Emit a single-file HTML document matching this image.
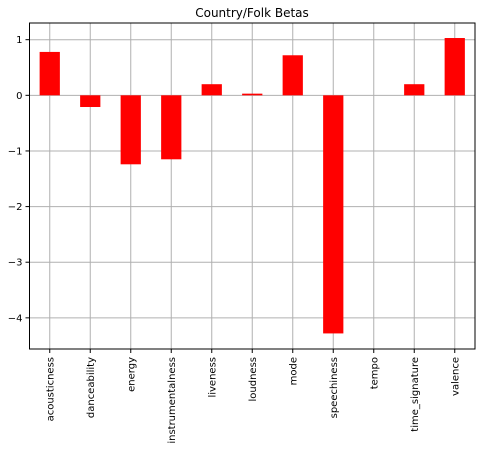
<!DOCTYPE html>
<html><head><meta charset="utf-8"><style>
body{margin:0;background:#fff;}
svg text{font-family:"DejaVu Sans","Liberation Sans",sans-serif;}
</style></head><body>
<svg id="chart" width="486" height="450" xmlns="http://www.w3.org/2000/svg">
<text x="252" y="17" text-anchor="middle" font-size="12">Country/Folk Betas</text>
<g id="grid"></g><g id="bars"></g><g id="axes"></g>
</svg>
<script>
const categories=["acousticness","danceability","energy","instrumentalness","liveness","loudness","mode","speechiness","tempo","time_signature","valence"];
const betas=[0.78,-0.21,-1.24,-1.15,0.2,0.03,0.72,-4.28,0,0.2,1.03];
const yTicks=[1,0,-1,-2,-3,-4];
const yTickLabels=["1","0","\u22121","\u22122","\u22123","\u22124"];
const L=29.5,R=475,T=23,B=349,yMin=-4.56,yMax=1.30;
const slot=(R-L)/categories.length;
const x=i=>L+slot*(i+0.5);
const y=v=>T+(yMax-v)/(yMax-yMin)*(B-T);
const NS="http://www.w3.org/2000/svg";
function mk(tag,attrs,parent){const e=document.createElementNS(NS,tag);for(const k in attrs)e.setAttribute(k,attrs[k]);document.getElementById(parent).appendChild(e);return e;}
categories.forEach((c,i)=>{
 const g=mk('line',{x1:x(i),x2:x(i),y1:T,y2:B,stroke:'#b0b0b0','stroke-width':1},'grid');
 
 
 const t=mk('line',{x1:x(i),x2:x(i),y1:B,y2:B+4,stroke:'#000'},'axes');
 
 
 const lb=mk('text',{x:0,y:0,'font-size':10,'text-anchor':'end',transform:`translate(${x(i)+3.5},${B+8}) rotate(-90)`},'axes');
 lb.textContent=c;
 
 
});
yTicks.forEach((v,i)=>{
 const g=mk('line',{x1:L,x2:R,y1:y(v),y2:y(v),stroke:'#b0b0b0','stroke-width':1},'grid');
 
 
 const t=mk('line',{x1:L-4,x2:L,y1:y(v),y2:y(v),stroke:'#000'},'axes');
 
 
 const lb=mk('text',{x:L-7,y:y(v)+3.5,'font-size':10,'text-anchor':'end'},'axes');
 lb.textContent=yTickLabels[i];
 
 
});
const bw=slot*0.5;
betas.forEach((v,i)=>{
 const r=mk('rect',{x:x(i)-bw/2,width:bw,y:Math.min(y(v),y(0)),height:Math.abs(y(v)-y(0)),fill:'#ff0000'},'bars');
 
 
});
const f=mk('rect',{x:L,y:T,width:R-L,height:B-T,fill:'none',stroke:'#000','stroke-width':1},'axes');


</script>
</body></html>
